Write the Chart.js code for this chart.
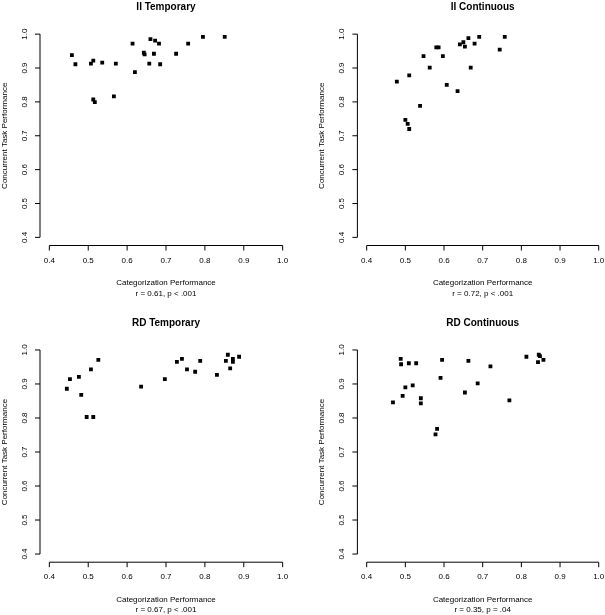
<!DOCTYPE html>
<html>
<head>
<meta charset="utf-8">
<script src="https://cdn.jsdelivr.net/npm/chart.js@4.4.1/dist/chart.umd.min.js"></script>
<style>
  html, body { margin: 0; padding: 0; background: #fff; overflow: hidden; }
  body { position: relative; width: 605px; height: 615px; }
  canvas { position: absolute; }
</style>
</head>
<body>
<canvas id="iiTemporary"></canvas>
<canvas id="iiContinuous"></canvas>
<canvas id="rdTemporary"></canvas>
<canvas id="rdContinuous"></canvas>
<script>
// axis ticks (same on both axes of every panel)
const tickValues = [0.4, 0.5, 0.6, 0.7, 0.8, 0.9, 1.0];
const tickLabels = ["0.4", "0.5", "0.6", "0.7", "0.8", "0.9", "1.0"];
const xAxisTitle = "Categorization Performance";
const yAxisTitle = "Concurrent Task Performance";

const panelTitles = ["II Temporary", "II Continuous", "RD Temporary", "RD Continuous"];
const statLines = ["r = 0.61, p < .001", "r = 0.72, p < .001", "r = 0.67, p < .001", "r = 0.35, p = .04"];

// series values
const iiTemporaryX = [0.458, 0.467, 0.507, 0.513, 0.536, 0.571, 0.614, 0.620, 0.643, 0.645, 0.660, 0.672,
  0.682, 0.669, 0.657, 0.685, 0.726, 0.757, 0.795, 0.851, 0.513, 0.517, 0.566];
const iiTemporaryY = [0.938, 0.911, 0.913, 0.922, 0.916, 0.913, 0.972, 0.888, 0.945, 0.940, 0.985, 0.981,
  0.972, 0.942, 0.913, 0.911, 0.942, 0.972, 0.992, 0.992, 0.807, 0.799, 0.816];

const iiContinuousX = [0.478, 0.510, 0.547, 0.580, 0.586, 0.597, 0.563, 0.607, 0.635, 0.538, 0.500, 0.506,
  0.510, 0.641, 0.650, 0.654, 0.663, 0.679, 0.691, 0.669, 0.744, 0.757];
const iiContinuousY = [0.860, 0.878, 0.935, 0.961, 0.961, 0.935, 0.901, 0.850, 0.832, 0.788, 0.747, 0.735,
  0.720, 0.970, 0.976, 0.963, 0.988, 0.972, 0.992, 0.901, 0.954, 0.992];

const rdTemporaryX = [0.445, 0.453, 0.476, 0.482, 0.507, 0.526, 0.496, 0.513, 0.636, 0.697, 0.728, 0.741,
  0.754, 0.775, 0.788, 0.831, 0.854, 0.859, 0.872, 0.872, 0.865, 0.888];
const rdTemporaryY = [0.886, 0.914, 0.921, 0.868, 0.943, 0.971, 0.803, 0.803, 0.892, 0.914, 0.965, 0.974,
  0.943, 0.936, 0.968, 0.927, 0.968, 0.986, 0.974, 0.965, 0.946, 0.980];

const rdContinuousX = [0.468, 0.488, 0.489, 0.509, 0.528, 0.493, 0.500, 0.519, 0.540, 0.540, 0.595, 0.591,
  0.582, 0.578, 0.663, 0.654, 0.687, 0.720, 0.769, 0.813, 0.845, 0.848, 0.843, 0.857];
const rdContinuousY = [0.846, 0.974, 0.958, 0.961, 0.961, 0.865, 0.890, 0.896, 0.858, 0.843, 0.971, 0.918,
  0.768, 0.752, 0.968, 0.875, 0.902, 0.952, 0.852, 0.980, 0.986, 0.982, 0.964, 0.971];

const panelX = [iiTemporaryX, iiContinuousX, rdTemporaryX, rdContinuousX];
const panelY = [iiTemporaryY, iiContinuousY, rdTemporaryY, rdContinuousY];

// canvas placement and plot region (pixels)
const panelBoxes = [
  { id: "iiTemporary", left: 0, top: 0, w: 302, h: 300, area: [40, 26, 292, 245.5] },
  { id: "iiContinuous", left: 302, top: 0, w: 310, h: 300, area: [55.4, 26, 306.3, 245.5] },
  { id: "rdTemporary", left: 0, top: 300, w: 302, h: 315, area: [40, 41.8, 292, 262.2] },
  { id: "rdContinuous", left: 302, top: 300, w: 310, h: 315, area: [55.4, 41.8, 306.3, 262.2] }
];

const FONT = '"Liberation Sans", Arial, Helvetica, sans-serif';

// R-style axes: lines only over the tick range, rotated y labels
const rAxesPlugin = {
  id: "rAxes",
  afterDraw(chart, args, opts) {
    const { ctx, chartArea: a, scales: { x, y } } = chart;
    const x0 = x.getPixelForValue(tickValues[0]);
    const x1 = x.getPixelForValue(tickValues[tickValues.length - 1]);
    const y0 = y.getPixelForValue(tickValues[0]);
    const y1 = y.getPixelForValue(tickValues[tickValues.length - 1]);
    const ax = a.left;
    const ay = a.bottom;

    ctx.save();
    ctx.strokeStyle = "#000";
    ctx.lineWidth = 1;
    ctx.beginPath();
    ctx.moveTo(x0, ay);
    ctx.lineTo(x1, ay);
    ctx.moveTo(ax, y0);
    ctx.lineTo(ax, y1);
    tickValues.forEach((v) => {
      const px = x.getPixelForValue(v);
      ctx.moveTo(px, ay);
      ctx.lineTo(px, ay + 5);
      const py = y.getPixelForValue(v);
      ctx.moveTo(ax, py);
      ctx.lineTo(ax - 5, py);
    });
    ctx.stroke();

    ctx.fillStyle = "#000";
    ctx.font = `8px ${FONT}`;
    ctx.textAlign = "center";
    ctx.textBaseline = "middle";
    tickValues.forEach((v, i) => {
      ctx.fillText(tickLabels[i], x.getPixelForValue(v), ay + 15);
      ctx.save();
      ctx.translate(ax - 15.5, y.getPixelForValue(v));
      ctx.rotate(-Math.PI / 2);
      ctx.fillText(tickLabels[i], 0, 0);
      ctx.restore();
    });

    const cx = (a.left + a.right) / 2;
    ctx.fillText(xAxisTitle, cx, ay + 37.5);
    ctx.fillText(opts.stat, cx, ay + 48);

    ctx.save();
    ctx.translate(ax - 35.5, (a.top + a.bottom) / 2);
    ctx.rotate(-Math.PI / 2);
    ctx.fillText(yAxisTitle, 0, 0);
    ctx.restore();

    ctx.font = `bold 10px ${FONT}`;
    ctx.fillText(opts.title, cx, a.top - 19);
    ctx.restore();
  }
};

function hiddenScale(isX) {
  return {
    type: "linear",
    min: 0.376,
    max: 1.024,
    grid: { display: false },
    border: { display: false },
    ticks: { display: false },
    afterBuildTicks: (scale) => { scale.ticks = tickValues.map((v) => ({ value: v })); },
    afterFit: (scale) => { if (isX) scale.height = 0; else scale.width = 0; }
  };
}

panelBoxes.forEach((box, i) => {
  const canvas = document.getElementById(box.id);
  canvas.width = box.w;
  canvas.height = box.h;
  canvas.style.left = box.left + "px";
  canvas.style.top = box.top + "px";
  canvas.style.width = box.w + "px";
  canvas.style.height = box.h + "px";

  const [l, t, r, b] = box.area;
  const points = panelX[i].map((v, k) => ({ x: v, y: panelY[i][k] }));

  new Chart(canvas.getContext("2d"), {
    type: "scatter",
    data: {
      datasets: [{
        data: points,
        pointStyle: "rect",
        pointRadius: 2.7,
        pointBorderWidth: 0,
        backgroundColor: "#000",
        borderColor: "#000"
      }]
    },
    options: {
      responsive: false,
      animation: false,
      events: [],
      devicePixelRatio: 1,
      layout: { padding: { left: l, top: t, right: box.w - r, bottom: box.h - b } },
      plugins: {
        legend: { display: false },
        tooltip: { enabled: false },
        rAxes: { title: panelTitles[i], stat: statLines[i] }
      },
      scales: { x: hiddenScale(true), y: hiddenScale(false) }
    },
    plugins: [rAxesPlugin]
  });
});
</script>
</body>
</html>
